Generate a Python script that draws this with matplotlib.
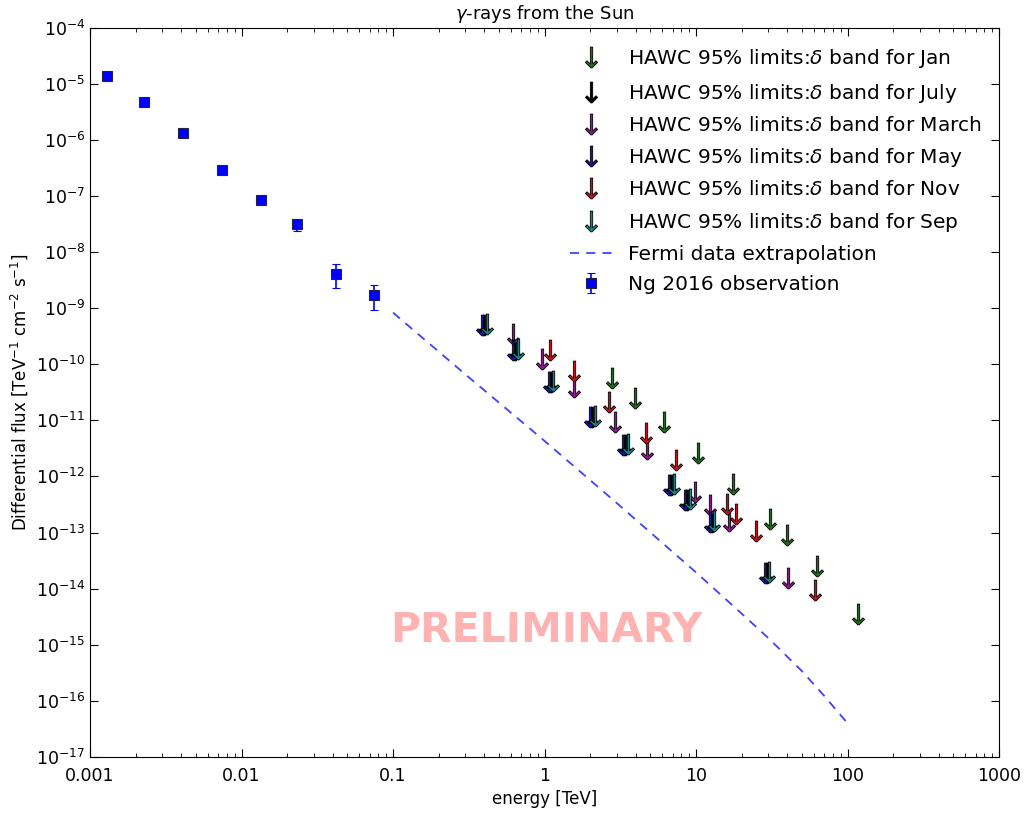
import matplotlib
matplotlib.use("Agg")
import matplotlib.pyplot as plt
import numpy as np
from matplotlib.ticker import (FuncFormatter, LogLocator, NullLocator,
                               NullFormatter, FixedLocator, LogFormatterSciNotation)

plt.rcParams['font.family'] = ['DejaVu Sans']
plt.rcParams['mathtext.fontset'] = 'dejavusans'

# ---------------- data ----------------
# Ng 2016 observation
ng_E = [0.00129, 0.00227, 0.00409, 0.00740, 0.0134, 0.0233, 0.0423, 0.0753]
ng_F = [1.385e-5, 4.65e-6, 1.33e-6, 2.92e-7, 8.33e-8, 3.11e-8, 4.10e-9, 1.71e-9]
ng_err_lo = [0, 0, 0, 0, 0, 0.72e-8, 1.79e-9, 0.80e-9]
ng_err_hi = [0, 0, 0, 0, 0, 0.3e-8, 1.93e-9, 0.90e-9]

# Fermi data extrapolation
fermi_E = [0.1, 0.3, 1.0, 3.0, 10.0, 20.0, 30.0, 50.0, 70.0, 100.0]
fermi_F = [8.3e-10, 6.6e-11, 4.3e-12, 3.35e-13, 1.95e-14, 3.6e-15, 1.32e-15,
           3.4e-16, 1.24e-16, 4.0e-17]

# HAWC 95% upper limits per month
jan_E = [2.80, 3.98, 6.12, 10.36, 17.63, 30.8, 40.1, 63.2, 117.3]
jan_F = [5.75e-11, 2.53e-11, 9.33e-12, 2.65e-12, 7.24e-13, 1.77e-13, 8.93e-14,
         2.54e-14, 3.54e-15]

july_E = [0.399, 0.639, 1.099, 2.068, 3.40, 6.84, 8.76, 12.70, 29.3]
july_F = [5.0e-10, 1.77e-10, 4.88e-11, 1.13e-11, 3.63e-12, 6.96e-13, 3.81e-13,
          1.55e-13, 1.93e-14]

march_E = [0.622, 0.958, 1.565, 2.93, 4.73, 9.85, 12.37, 16.51, 40.7]
march_F = [3.45e-10, 1.25e-10, 3.88e-11, 9.33e-12, 3.05e-12, 5.35e-13, 3.06e-13,
           1.61e-13, 1.53e-14]

may_E = [0.387, 0.620, 1.066, 2.006, 3.30, 6.63, 8.50, 12.32, 28.4]
may_F = [5.0e-10, 1.77e-10, 4.88e-11, 1.13e-11, 3.63e-12, 6.96e-13, 3.81e-13,
         1.55e-13, 1.93e-14]

nov_E = [1.087, 1.565, 2.65, 4.66, 7.38, 15.94, 18.37, 24.9, 61.0]
nov_F = [1.77e-10, 7.67e-11, 2.12e-11, 6.03e-12, 1.96e-12, 3.27e-13, 2.17e-13,
         1.05e-13, 9.35e-15]

sep_E = [0.415, 0.664, 1.142, 2.149, 3.53, 7.11, 9.10, 13.2, 30.4]
sep_F = [5.2e-10, 1.85e-10, 5.1e-11, 1.18e-11, 3.8e-12, 7.3e-13, 4.0e-13,
         1.62e-13, 2.02e-14]

months = ['Jan', 'July', 'March', 'May', 'Nov', 'Sep']
month_E = [jan_E, july_E, march_E, may_E, nov_E, sep_E]
month_F = [jan_F, july_F, march_F, may_F, nov_F, sep_F]
month_colors = ['#1f6b1f', '#000000', '#8b1a8b', '#1515a0', '#c0141a', '#1a8585']

x_ticks = [0.001, 0.01, 0.1, 1, 10, 100, 1000]
y_ticks = [1e-17, 1e-16, 1e-15, 1e-14, 1e-13, 1e-12, 1e-11, 1e-10, 1e-9,
           1e-8, 1e-7, 1e-6, 1e-5, 1e-4]

# ---------------- plot ----------------
fig = plt.figure(figsize=(10.24, 8.14), dpi=100)
ax = fig.add_axes([0.0879, 0.070, 0.8877, 0.8962])

for name, E, F, c in zip(months, month_E, month_F, month_colors):
    ax.plot(E, F, linestyle='none', marker=r'$\downarrow$', markersize=15,
            markerfacecolor=c, markeredgecolor='k', markeredgewidth=0.6,
            label=r'HAWC 95% limits:$\delta$ band for ' + name)

ax.plot(fermi_E, fermi_F, linestyle='--', color='b', alpha=0.75, lw=1.3,
        dashes=(5, 4), label='Fermi data extrapolation')

ax.errorbar(ng_E, ng_F, yerr=[ng_err_lo, ng_err_hi], fmt='s', color='b',
            markersize=6.5, markeredgecolor='#222244', markeredgewidth=0.8,
            ecolor='b', elinewidth=1.2, capsize=3, capthick=1.0,
            label='Ng 2016 observation')

ax.set_xscale('log')
ax.set_yscale('log')
ax.set_xlim(0.001, 1000)
ax.set_ylim(1e-17, 1e-4)

ax.xaxis.set_major_locator(FixedLocator(x_ticks))
ax.xaxis.set_major_formatter(FuncFormatter(lambda v, p: '%g' % v))
ax.xaxis.set_minor_locator(LogLocator(base=10, subs=np.arange(2, 10)))
ax.xaxis.set_minor_formatter(NullFormatter())
ax.yaxis.set_major_locator(FixedLocator(y_ticks))
ax.yaxis.set_major_formatter(LogFormatterSciNotation())
ax.yaxis.set_minor_locator(NullLocator())
ax.yaxis.set_minor_formatter(NullFormatter())

ax.tick_params(which='both', direction='in', top=True, right=True,
               labelsize=12.5)
ax.tick_params(which='major', length=6, width=0.8)
ax.tick_params(which='minor', length=3, width=0.6)
ax.tick_params(axis='x', pad=7)

ax.set_title(r'$\gamma$-rays from the Sun', fontsize=13, pad=6)
ax.set_xlabel('energy [TeV]', fontsize=12)
ax.set_ylabel(r'Differential flux [TeV$^{-1}$ cm$^{-2}$ s$^{-1}$]', fontsize=12)

ax.text(0.5017, 0.173, 'PRELIMINARY', transform=ax.transAxes, ha='center',
        va='center', fontsize=29.5, fontweight='bold', color='red', alpha=0.3)

leg = ax.legend(loc='upper right', bbox_to_anchor=(0.990, 0.9838),
                frameon=False, fontsize=14.5, numpoints=1,
                handlelength=2.1, borderaxespad=0.0, labelspacing=0.56)

fig.savefig('out.png', dpi=100, facecolor='white')
